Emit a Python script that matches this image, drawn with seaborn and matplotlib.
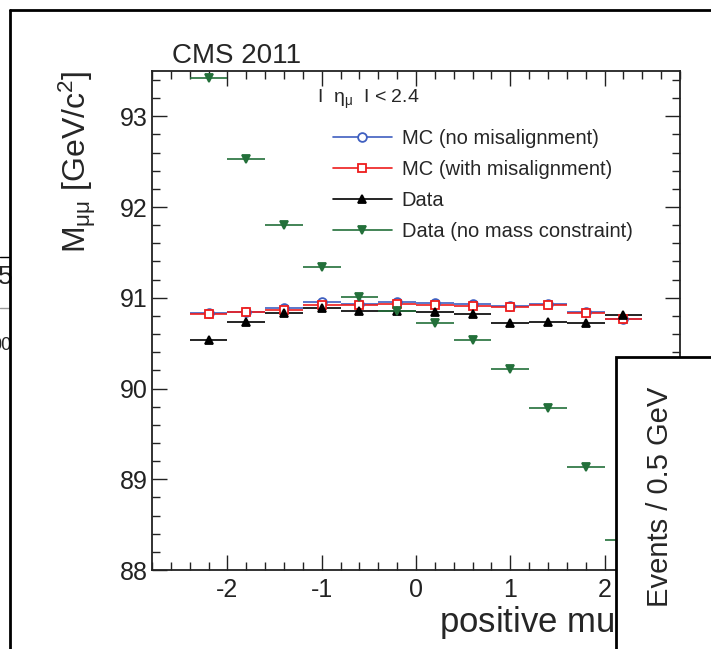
### -------------------- ###
###  Libraries
### -------------------- ###
import numpy as np
import pandas as pd
import matplotlib
matplotlib.use("Agg")
import matplotlib.pyplot as plt
from matplotlib.lines import Line2D
from matplotlib.patches import Rectangle
from matplotlib.ticker import MultipleLocator
import seaborn as sns

### -------------------- ###
###  Data
### -------------------- ###
eta_centers = [-2.2, -1.8, -1.4, -1.0, -0.6, -0.2, 0.2, 0.6, 1.0, 1.4, 1.8, 2.2]
bin_half_width = 0.2

mc_no_misalign = [90.83, 90.84, 90.89, 90.95, 90.93, 90.95, 90.94, 90.93, 90.91, 90.93, 90.84, 90.77]
mc_with_misalign = [90.82, 90.84, 90.86, 90.92, 90.92, 90.93, 90.92, 90.91, 90.90, 90.92, 90.83, 90.77]
data_mass = [90.54, 90.73, 90.83, 90.89, 90.85, 90.85, 90.84, 90.82, 90.72, 90.73, 90.72, 90.81]
data_no_constraint = [93.42, 92.53, 91.80, 91.34, 91.01, 90.85, 90.72, 90.54, 90.21, 89.79, 89.13, 88.33]

series_names = ["MC (no misalignment)", "MC (with misalignment)", "Data", "Data (no mass constraint)"]
series_colors = ["#3f5fc0", "#ee1c1c", "#000000", "#23703a"]
series_markers = ["o", "s", "^", "v"]
series_hollow = [True, True, False, False]

df = pd.DataFrame({
    "eta": eta_centers * 4,
    "mass": mc_no_misalign + mc_with_misalign + data_mass + data_no_constraint,
    "series": np.repeat(series_names, len(eta_centers)),
})

### -------------------- ###
###  Style
### -------------------- ###
sns.set_theme(style="ticks")
plt.rcParams["font.family"] = ["Liberation Sans", "DejaVu Sans"]
plt.rcParams["mathtext.fontset"] = "custom"
plt.rcParams["mathtext.rm"] = "Liberation Sans"
plt.rcParams["mathtext.it"] = "Liberation Sans"
plt.rcParams["axes.unicode_minus"] = False

fig = plt.figure(figsize=(7.11, 6.49), dpi=100)
ax = fig.add_axes([0.2138, 0.1217, 0.7426, 0.769])

# draw order: green, black, blue, red (red on top)
draw_order = [3, 2, 0, 1]
for i in draw_order:
    name = series_names[i]
    sub = df[df["series"] == name]
    c = series_colors[i]
    ax.errorbar(sub["eta"], sub["mass"], xerr=bin_half_width, fmt="none",
                ecolor=c, elinewidth=1.2, capsize=0, zorder=2 + i * 0.1)
    sns.lineplot(data=sub, x="eta", y="mass", ax=ax, color=c,
                 marker=series_markers[i], linestyle="", markersize=6.3,
                 markeredgecolor=c,
                 markerfacecolor="white" if series_hollow[i] else c,
                 markeredgewidth=1.3, legend=False, zorder=3 + i * 0.1)

ax.set_xlim(-2.8, 2.8)
ax.set_ylim(88, 93.5)
ax.xaxis.set_major_locator(MultipleLocator(1))
ax.xaxis.set_minor_locator(MultipleLocator(0.2))
ax.yaxis.set_major_locator(MultipleLocator(1))
ax.yaxis.set_minor_locator(MultipleLocator(0.2))
ax.tick_params(which="both", direction="in", top=True, right=True, width=1.0, colors="#222222")
ax.tick_params(which="major", length=11, labelsize=18, pad=6)
ax.tick_params(which="minor", length=6)
ax.tick_params(axis="y", which="major", pad=3)
for sp in ax.spines.values():
    sp.set_linewidth(1.3)
    sp.set_color("#222222")

ax.set_xlabel(r"positive muon $\eta$", fontsize=25, loc="right", labelpad=1)
ax.xaxis.label.set_x(1.004)
ax.set_ylabel(r"M$_{\mu\mu}$ [GeV/c$^{2}$]", fontsize=23, loc="top", labelpad=16)

ax.text(0.038, 1.016, "CMS 2011", transform=ax.transAxes, fontsize=20, va="baseline", ha="left")
ax.text(0.3125, 0.942, r"I  $\eta_{\mu}$  I < 2.4", transform=ax.transAxes, fontsize=14,
        va="center", ha="left")

handles = [Line2D([], [], color=series_colors[i], marker=series_markers[i], markersize=6.3,
                  markeredgecolor=series_colors[i],
                  markerfacecolor="white" if series_hollow[i] else series_colors[i],
                  markeredgewidth=1.3, linewidth=1.2)
           for i in range(4)]
ax.legend(handles, series_names, loc="upper left", bbox_to_anchor=(0.343, 0.884),
          frameon=False, fontsize=14.5, handlelength=2.9, handletextpad=0.5,
          labelspacing=0.6, borderpad=0, borderaxespad=0, numpoints=1)

### -------------------- ###
###  Overlapping fragments of neighbouring panels
### -------------------- ###
W, H = 711, 649
fig.add_artist(Line2D([0, 9 / W], [1 - 257 / H] * 2, color="black", lw=1.0, zorder=1))
fig.add_artist(Line2D([0, 9 / W], [1 - 308 / H] * 2, color="#999999", lw=1.0, zorder=1))
fig.text(13 / W, 1 - 277 / H, "5", fontsize=19, ha="right", va="center", zorder=1)
fig.text(12 / W, 1 - 345 / H, "00", fontsize=13, ha="right", va="center", zorder=1)
fig.add_artist(Line2D([10 / W, 10 / W], [-0.05, 1 - 10 / H], color="black", lw=2.0, zorder=5))
fig.add_artist(Line2D([10 / W, 1.05], [1 - 10 / H] * 2, color="black", lw=2.0, zorder=5))

fig.add_artist(Rectangle((616 / W, -0.1), 0.3, 0.1 + 1 - 357 / H, transform=fig.transFigure,
                         facecolor="white", edgecolor="black", lw=2.0, zorder=10))
fig.text(660 / W, 1 - 497 / H, "Events / 0.5 GeV", rotation=90, fontsize=21,
         ha="center", va="center", zorder=11)

fig.savefig("out.png", dpi=100)
